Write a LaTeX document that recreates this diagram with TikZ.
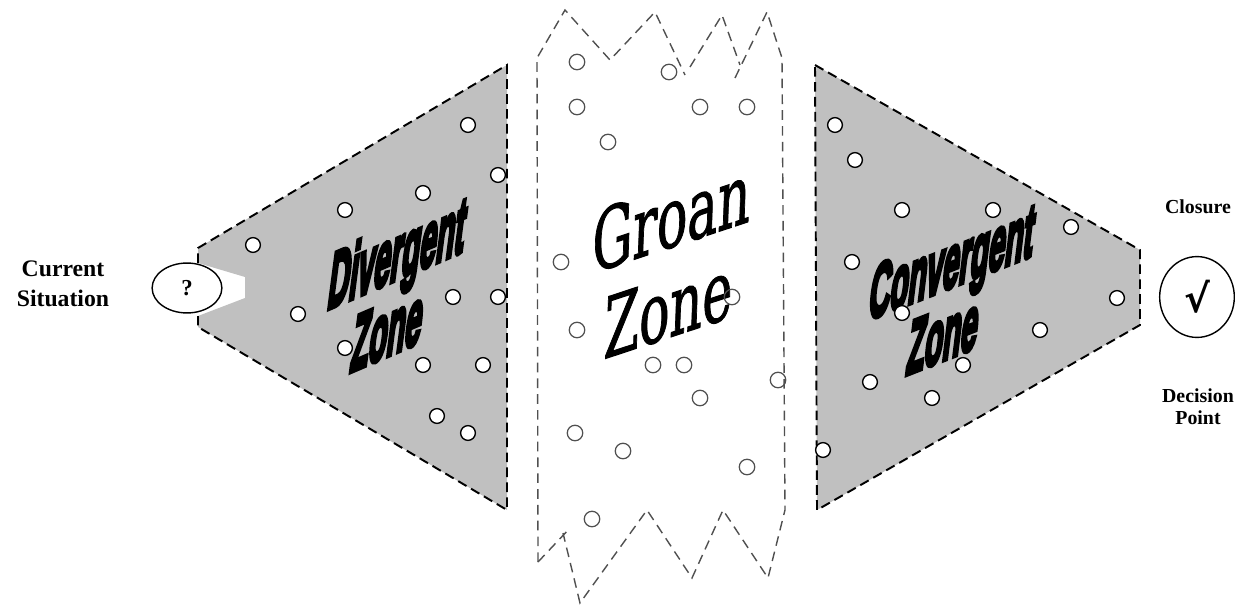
\documentclass[tikz,border=0pt]{standalone}
\usepackage{fontspec}
\setmainfont{Liberation Serif}
\newfontfamily\zonefont[BoldFeatures={FakeBold=7}]{Liberation Sans}
\newfontfamily\groanfont[FakeBold=1.4]{DejaVu Serif}
\newfontfamily\symfont{DejaVu Sans}
\usepackage{tikz}
\usetikzlibrary{shapes.geometric}
\definecolor{zonegray}{RGB}{192,192,192}
\definecolor{groanline}{RGB}{80,80,80}

\begin{document}
\begin{tikzpicture}[x=0.02cm,y=-0.02cm,
    zoneborder/.style={draw=black,line width=1.1pt,dash pattern=on 5.5pt off 3pt},
    groanborder/.style={draw=groanline,line width=0.8pt,dash pattern=on 5.5pt off 3.5pt},
    idea/.style={fill=white,draw=black,line width=0.8pt},
    rawidea/.style={draw=groanline,line width=0.7pt},
    lbl/.style={font=\bfseries\fontsize{13.5}{17}\selectfont,align=center},
    zonetext/.style={font=\zonefont\bfseries\fontsize{20}{19}\selectfont,align=center,transform shape}]
    \useasboundingbox (0,0) rectangle (1235,605);
    \fill[zonegray] (198,248) -- (507,65) -- (507,510) -- (198,327) -- (198,316)
      -- (245,298) -- (245,277) -- (198,263) -- cycle;
    \draw[zoneborder] (198,263) -- (198,248) -- (507,65) -- (507,510) -- (198,327) -- (198,316);
    \fill[zonegray] (815,65) -- (1140,250) -- (1140,325) -- (817,510) -- cycle;
    \draw[zoneborder] (815,65) -- (1140,250) -- (1140,325) -- (817,510) -- cycle;
    \draw[groanborder] (538,562) -- (537,58) -- (565,10) -- (610,60) -- (655,12) -- (685,75);
    \draw[groanborder] (690,67) -- (722,15) -- (740,65);
    \draw[groanborder] (735,78) -- (767,12) -- (782,58) -- (785,510) -- (768,578) -- (723,510)
      -- (692,578) -- (647,510) -- (580,603) -- (563,533);
    \draw[groanborder] (538,562) -- (570,528);
    \node[zonetext,cm={0.84,0.36,0.3,2.3,(0,0)}] (divtext) at (393,290) {Divergent\\Zone};
    \node[zonetext,cm={0.84,0.33,0.27,2.2,(0,0)}] (context) at (948,298) {Convergent\\Zone};
    \node[font=\groanfont\fontsize{28}{30}\selectfont,align=center,transform shape,
      cm={1.03,0.34,0.06,1.72,(0,0)}] (groantext) at (670,262) {Groan\\Zone};
    \foreach \p in {(468,125),(498,175),(423,193),(345,210),(253,245),(453,297),(498,297),
        (298,314),(345,348),(423,365),(483,365),(437,416),(468,433),
        (835,125),(855,160),(902,210),(993,210),(1071,227),(852,262),(1117,298),
        (902,313),(1040,330),(963,365),(870,382),(932,398),(823,450)}
      \draw[idea] \p circle[radius=4.2pt];
    \foreach \p in {(577,62),(669,72),(577,107),(700,107),(747,107),(608,142),(561,262),
        (577,330),(732,297),(653,365),(684,365),(778,380),(700,398),(575,433),(623,451),
        (747,467),(592,519)}
      \draw[rawidea] \p circle[radius=4.4pt];
    \node[lbl] (current) at (63,284) {Current\\Situation};
    \node[ellipse,draw,fill=white,line width=0.8pt,minimum width=39.7pt,minimum height=28.4pt,
      inner sep=0pt,font=\bfseries\fontsize{13}{13}\selectfont] (question) at (187,288) {?};
    \node[ellipse,draw,line width=0.8pt,minimum width=42.5pt,minimum height=46pt,inner sep=0pt,
      font=\symfont\bfseries\fontsize{22}{22}\selectfont] (decision) at (1197,297) {√};
    \node[lbl,font=\bfseries\fontsize{11.3}{12.5}\selectfont] (closure) at (1198,207) {Closure};
    \node[lbl,font=\bfseries\fontsize{11.3}{12.5}\selectfont] (point) at (1198,407) {Decision\\Point};
\end{tikzpicture}
\end{document}
